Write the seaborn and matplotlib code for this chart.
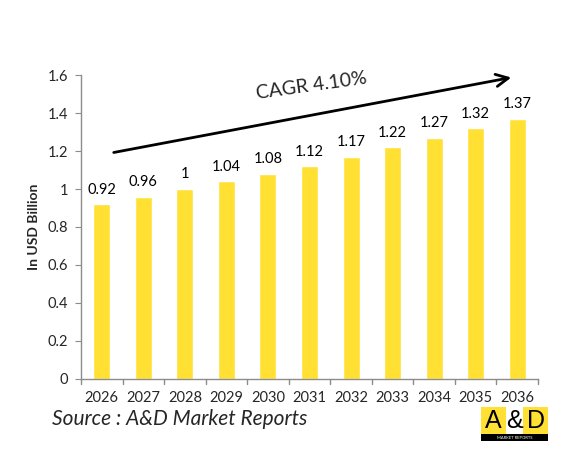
import numpy as np
import pandas as pd
import seaborn as sns
from matplotlib import pyplot as plt
from matplotlib.patches import Rectangle

years = ["2026", "2027", "2028", "2029", "2030", "2031", "2032", "2033", "2034", "2035", "2036"]
values = [0.92, 0.96, 1.00, 1.04, 1.08, 1.12, 1.17, 1.22, 1.27, 1.32, 1.37]
labels = ["0.92", "0.96", "1", "1.04", "1.08", "1.12", "1.17", "1.22", "1.27", "1.32", "1.37"]
yticks = [0, 0.2, 0.4, 0.6, 0.8, 1, 1.2, 1.4, 1.6]
ytick_labels = ["0", "0.2", "0.4", "0.6", "0.8", "1", "1.2", "1.4", "1.6"]

sns.set_style("white")
plt.rcParams['font.family'] = ['Lato', 'DejaVu Sans']

df = pd.DataFrame({"year": years, "value": values})

fig = plt.figure(figsize=(5.72, 4.53), dpi=100)
ax = fig.add_axes([0.1416, 0.1634, 0.7990, 0.6710])
sns.barplot(data=df, x="year", y="value", color="#FFE033", saturation=1, width=0.41, ax=ax)

# value labels above bars
for i, (v, t) in enumerate(zip(values, labels)):
    ax.text(i, v + 0.04, t, ha="center", va="bottom", fontsize=10.5, color="black")

ax.set_ylim(0, 1.6)
ax.set_xlim(-0.5, len(years) - 0.5)
ax.set_yticks(yticks)
ax.set_yticklabels(ytick_labels, fontsize=10.5)
ax.set_xticks(np.arange(len(years)))
ax.set_xticklabels(years, fontsize=10.5)
ax.set_xlabel("")
ax.set_ylabel("In USD Billion", fontsize=10, fontweight="bold", labelpad=6)

for s in ["top", "right"]:
    ax.spines[s].set_visible(False)
for s in ["left", "bottom"]:
    ax.spines[s].set_color("#8c8c8c")
    ax.spines[s].set_linewidth(1)

ax.tick_params(axis="y", length=4, color="#8c8c8c", direction="out", left=True, pad=5)
ax.tick_params(axis="x", length=0, pad=9)
# x tick marks between categories
for b in np.arange(-0.5, len(years), 1):
    ax.plot([b, b], [0, -0.025], color="#8c8c8c", lw=1, clip_on=False)

# CAGR arrow in figure coordinates
ax.annotate("", xy=(514 / 572, 1 - 77 / 453), xytext=(111 / 572, 1 - 153 / 453),
            xycoords="figure fraction", textcoords="figure fraction",
            arrowprops=dict(arrowstyle="->", color="black", lw=2, mutation_scale=22))
fig.text(312 / 572, 1 - 86 / 453, "CAGR 4.10%", fontsize=14, rotation=8,
         ha="center", va="center")

fig.text(52 / 572, 1 - 419 / 453, "Source : A&D Market Reports", fontsize=15,
         style="italic", ha="left", va="center")

# logo
lx, ly, lw, lh = 481 / 572, 1 - 441 / 453, 67 / 572, 34 / 453
fig.patches.append(Rectangle((lx, ly + lh * 0.2), lw, lh * 0.8, transform=fig.transFigure,
                             facecolor="#FFE033", edgecolor="none"))
fig.patches.append(Rectangle((lx + lw * 0.37, ly + lh * 0.2), lw * 0.26, lh * 0.8,
                             transform=fig.transFigure, facecolor="white", edgecolor="none"))
fig.patches.append(Rectangle((lx, ly), lw, lh * 0.2, transform=fig.transFigure,
                             facecolor="black", edgecolor="none"))
for fx, ch in [(0.18, "A"), (0.5, "&"), (0.82, "D")]:
    fig.text(lx + lw * fx, ly + lh * 0.6, ch, fontsize=18, ha="center", va="center",
             color="black", family=["Liberation Sans", "DejaVu Sans"])
fig.text(lx + lw / 2, ly + lh * 0.1, "MARKET REPORTS", fontsize=3, ha="center", va="center",
         color="white")

plt.savefig("out.png", dpi=100)
